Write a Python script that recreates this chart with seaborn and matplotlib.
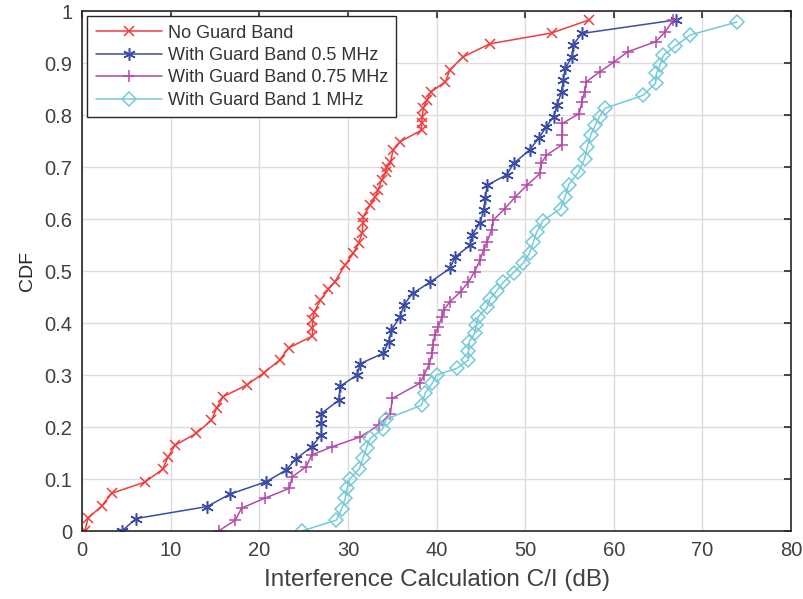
import numpy as np
import pandas as pd
import matplotlib
matplotlib.use("Agg")
import matplotlib.pyplot as plt
import seaborn as sns

# values (C/I in dB, CDF level)
no_gb_x = [0.3, 0.7, 2.2, 3.4, 7.1, 9.1, 9.7, 10.5, 12.9, 14.6, 15.2, 15.9, 18.6, 20.5,
           22.3, 23.3, 26.0, 26.0, 26.0, 26.2, 26.9, 27.8, 28.5, 29.7, 30.6, 31.2, 31.6,
           31.7, 31.7, 32.5, 33.1, 33.4, 33.8, 34.3, 34.4, 34.8, 35.1, 35.9, 38.3, 38.3,
           38.4, 38.5, 38.9, 39.4, 41.0, 41.5, 43.0, 46.0, 53.0, 57.2]
no_gb_y = [0.0, 0.025, 0.048, 0.073, 0.094, 0.119, 0.142, 0.165, 0.188, 0.213, 0.237,
           0.258, 0.281, 0.304, 0.329, 0.352, 0.375, 0.39, 0.406, 0.421, 0.444, 0.465,
           0.479, 0.512, 0.534, 0.553, 0.573, 0.592, 0.604, 0.627, 0.643, 0.656, 0.675,
           0.691, 0.70, 0.71, 0.733, 0.749, 0.771, 0.784, 0.797, 0.813, 0.829, 0.845,
           0.864, 0.887, 0.912, 0.937, 0.958, 0.983]

gb05_x = [4.5, 6.1, 14.1, 16.7, 20.8, 23.0, 24.1, 25.9, 27.0, 27.0, 27.0, 29.0, 29.1,
          31.0, 31.4, 34.0, 34.6, 34.9, 35.9, 36.3, 37.3, 39.3, 41.5, 42.1, 43.8, 44.0,
          44.9, 45.3, 45.5, 45.7, 47.9, 48.7, 50.5, 51.5, 52.4, 53.2, 53.6, 54.1, 54.3,
          54.5, 55.3, 55.4, 56.4, 67.0]
gb05_y = [0.0, 0.024, 0.047, 0.071, 0.095, 0.117, 0.138, 0.162, 0.185, 0.207, 0.226,
          0.252, 0.278, 0.30, 0.322, 0.342, 0.364, 0.387, 0.412, 0.435, 0.457, 0.479,
          0.505, 0.527, 0.55, 0.569, 0.593, 0.617, 0.64, 0.665, 0.685, 0.707, 0.733,
          0.755, 0.778, 0.797, 0.819, 0.845, 0.867, 0.89, 0.912, 0.935, 0.957, 0.983]

gb075_x = [15.4, 17.3, 18.0, 20.6, 23.4, 23.7, 25.3, 25.9, 28.2, 31.4, 33.5, 34.8, 35.0,
           38.1, 38.6, 39.2, 39.5, 39.6, 39.8, 40.2, 40.6, 40.8, 41.5, 42.7, 43.6, 44.3,
           44.9, 45.3, 45.7, 46.2, 46.4, 47.7, 48.9, 50.2, 51.7, 51.8, 52.4, 54.1, 54.2,
           54.2, 56.1, 56.4, 56.7, 56.9, 58.4, 60.0, 61.6, 64.7, 65.8, 66.7]
gb075_y = [0.0, 0.021, 0.044, 0.063, 0.082, 0.104, 0.124, 0.146, 0.162, 0.181, 0.204,
           0.226, 0.255, 0.284, 0.30, 0.322, 0.342, 0.358, 0.377, 0.393, 0.412, 0.425,
           0.441, 0.46, 0.479, 0.499, 0.521, 0.54, 0.556, 0.579, 0.598, 0.62, 0.643,
           0.665, 0.688, 0.707, 0.723, 0.742, 0.762, 0.784, 0.803, 0.826, 0.845, 0.864,
           0.883, 0.902, 0.922, 0.941, 0.96, 0.983]

gb1_x = [24.8, 28.7, 29.3, 29.7, 29.9, 30.2, 31.3, 31.7, 32.1, 32.5, 33.9, 34.3, 38.3,
         38.7, 39.5, 40.0, 42.3, 43.6, 43.6, 43.7, 44.3, 44.5, 44.7, 45.7, 46.0, 46.8,
         47.5, 48.7, 49.8, 50.5, 50.9, 51.3, 52.0, 54.0, 54.5, 54.9, 56.0, 56.7, 57.0,
         57.4, 57.9, 58.4, 59.0, 63.3, 64.7, 64.8, 65.2, 65.6, 66.9, 68.6, 73.9]
gb1_y = [0.0, 0.021, 0.043, 0.063, 0.082, 0.1, 0.12, 0.14, 0.16, 0.178, 0.196, 0.215,
         0.242, 0.265, 0.284, 0.30, 0.313, 0.329, 0.347, 0.364, 0.38, 0.396, 0.412, 0.43,
         0.446, 0.462, 0.478, 0.497, 0.516, 0.535, 0.555, 0.575, 0.597, 0.62, 0.643,
         0.666, 0.69, 0.716, 0.739, 0.762, 0.78, 0.797, 0.813, 0.838, 0.861, 0.88, 0.896,
         0.915, 0.932, 0.954, 0.979]

labels = ["No Guard Band", "With Guard Band 0.5 MHz",
          "With Guard Band 0.75 MHz", "With Guard Band 1 MHz"]
x_ticks = [0, 10, 20, 30, 40, 50, 60, 70, 80]
y_ticks = [0, 0.1, 0.2, 0.3, 0.4, 0.5, 0.6, 0.7, 0.8, 0.9, 1]
y_tick_labels = ["0", "0.1", "0.2", "0.3", "0.4", "0.5", "0.6", "0.7", "0.8", "0.9", "1"]

sns.set_style("whitegrid")
plt.rcParams["font.family"] = ["Liberation Sans", "DejaVu Sans"]

fig = plt.figure(figsize=(8.04, 5.99), dpi=100)
ax = fig.add_axes([0.102, 0.1135, 0.882, 0.868])

# asterisk like matlab '*': 6 arms, star-line style
asterisk = (6, 2, 0)
series = [
    (no_gb_x, no_gb_y, "#f03c3c", "x", {"markersize": 7.5}),
    (gb05_x, gb05_y, "#3a4ca6", asterisk, {"markersize": 9}),
    (gb075_x, gb075_y, "#b44aa8", "+", {"markersize": 9}),
    (gb1_x, gb1_y, "#74cad6", "D", {"markerfacecolor": "none", "markersize": 7}),
]
for (xs, ys, color, mk, extra), lab in zip(series, labels):
    df = pd.DataFrame({"ci": xs, "cdf": ys})
    kw = dict(markeredgewidth=1.1)
    kw.update(extra)
    sns.lineplot(data=df, x="ci", y="cdf", ax=ax, sort=False, estimator=None,
                 color=color, marker=mk, markeredgecolor=color, linewidth=1.1,
                 label=lab, **kw)

ax.set_xlim(0, 80)
ax.set_ylim(0, 1)
ax.set_xticks(x_ticks)
ax.set_yticks(y_ticks)
ax.set_yticklabels(y_tick_labels)
ax.tick_params(axis="both", labelsize=14.5, colors="#262626", labelcolor="#404040",
               direction="in", length=5, width=1.2, top=True, right=True, pad=7)
ax.grid(True, color="#dcdcdc", linewidth=1.0)
for sp in ax.spines.values():
    sp.set_color("#262626")
    sp.set_linewidth(1.2)
ax.set_xlabel("Interference Calculation C/I (dB)", fontsize=17.5, color="#404040",
              labelpad=7)
ax.set_ylabel("CDF", fontsize=14, color="#262626", labelpad=6)

leg = ax.legend(loc="upper left", fontsize=13, frameon=True, fancybox=False,
                borderaxespad=0.3, handlelength=3.7, handletextpad=0.3,
                labelspacing=0.3, borderpad=0.45)
leg.get_frame().set_edgecolor("#262626")
leg.get_frame().set_linewidth(1.0)
leg.get_frame().set_alpha(1)
for t in leg.get_texts():
    t.set_color("#333333")

fig.savefig("out.png", dpi=100)
